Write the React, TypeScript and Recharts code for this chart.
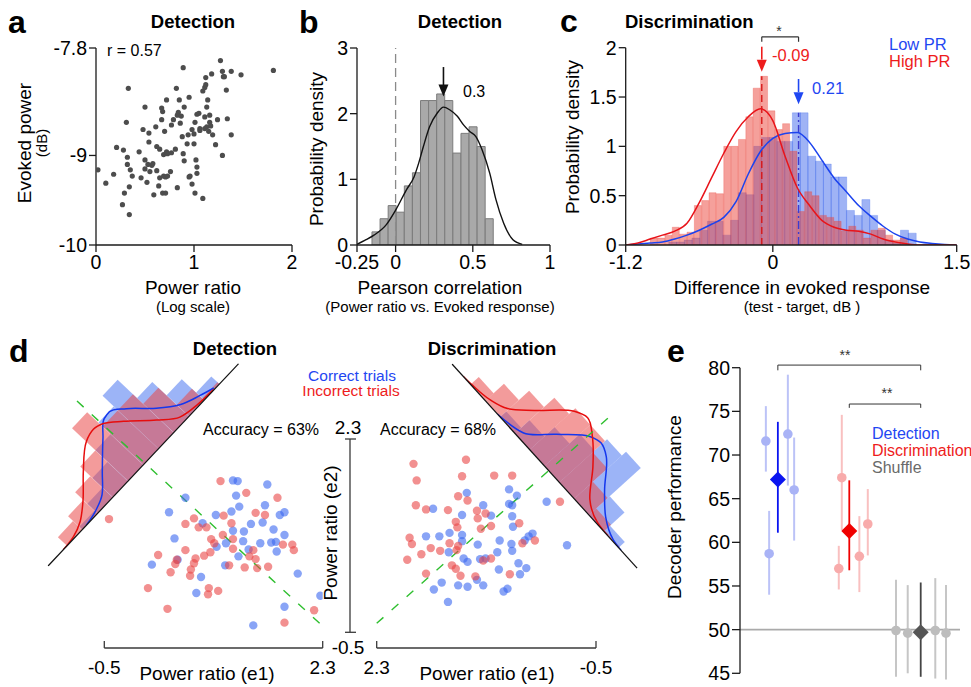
import React from "react";
import {
  ComposedChart,
  ScatterChart,
  Scatter,
  Bar,
  Line,
  XAxis,
  YAxis,
  ReferenceLine,
  ReferenceDot,
  ErrorBar,
} from "recharts";

const FONT = "'Liberation Sans', Arial, Helvetica, sans-serif";
const INK = "#1b1b1b";
const BLUE = "#1f47f2";
const RED = "#ee1c1c";

// ---------- a: evoked power vs power ratio ----------
const powerRatio = [
  0.02, 0.1, 0.18, 0.21, 0.28, 0.27, 0.29, 0.31, 0.32, 0.32, 0.33, 0.34, 0.34, 0.35, 0.37, 0.44, 0.46, 0.48, 0.5, 0.5,
  0.5, 0.52, 0.54, 0.53, 0.54, 0.55, 0.57, 0.58, 0.59, 0.61, 0.62, 0.62, 0.64, 0.65, 0.65, 0.67, 0.67, 0.68, 0.68, 0.69,
  0.69, 0.71, 0.7, 0.71, 0.72, 0.72, 0.73, 0.73, 0.76, 0.77, 0.77, 0.79, 0.81, 0.82, 0.83, 0.83, 0.84, 0.85, 0.86, 0.87,
  0.88, 0.89, 0.89, 0.9, 0.9, 0.93, 0.94, 0.95, 0.95, 0.96, 0.98, 0.98, 1.0, 1.0, 1.01, 1.01, 1.02, 1.03, 1.03, 1.03,
  1.05, 1.06, 1.06, 1.09, 1.09, 1.11, 1.11, 1.11, 1.12, 1.12, 1.13, 1.13, 1.14, 1.15, 1.16, 1.16, 1.17, 1.18, 1.19, 1.22,
  1.24, 1.27, 1.29, 1.29, 1.3, 1.31, 1.33, 1.34, 1.38, 1.38, 1.48, 1.81,
];
const evokedPower = [
  -9.16, -9.31, -9.21, -8.91, -8.94, -9.55, -9.42, -8.63, -9.02, -9.1, -8.25, -9.35, -9.66, -9.16, -9.23, -8.96, -9.25,
  -8.71, -8.46, -9.05, -9.15, -9.3, -8.85, -9.1, -8.75, -9.18, -9.11, -9.09, -9.44, -8.68, -8.9, -9.17, -9.34, -9.25,
  -8.93, -8.6, -8.47, -8.51, -9.42, -8.99, -9.23, -9.42, -8.73, -9.24, -8.38, -8.96, -9.23, -8.98, -9.18, -8.66, -8.97,
  -8.6, -8.93, -8.25, -9.36, -8.55, -8.52, -8.38, -8.64, -8.56, -8.79, -8.02, -8.98, -9.06, -8.46, -8.87, -8.77, -8.35,
  -9.24, -9.23, -9.32, -8.71, -8.76, -8.87, -9.42, -8.63, -9.05, -8.54, -9.13, -9.2, -8.53, -8.7, -8.72, -8.28, -9.48,
  -8.24, -8.57, -8.7, -8.13, -8.21, -8.46, -8.68, -8.38, -8.73, -8.55, -8.63, -8.67, -8.09, -8.77, -8.88, -8.6, -7.94,
  -8.06, -9.0, -8.12, -8.12, -8.27, -8.59, -8.06, -8.77, -8.1, -8.05,
];

// ---------- b: pearson correlation histogram ----------
const corrBinCenter = [
  -0.1268, -0.0744, -0.022, 0.0304, 0.0828, 0.1352, 0.1876, 0.24, 0.2924, 0.3448, 0.3972, 0.4496, 0.502, 0.5544, 0.6068,
];
const corrBinDensity = [0.2, 0.4, 0.6, 0.5, 0.9, 1.1, 2.2, 2.2, 2.3, 2.2, 1.4, 1.7, 1.8, 1.5, 0.4];
const corrKdeX = [
  -0.25, -0.2, -0.14, -0.06, 0, 0.07, 0.12, 0.15, 0.18, 0.22, 0.27, 0.31, 0.35, 0.4, 0.44, 0.48, 0.52, 0.56, 0.61, 0.65,
  0.7, 0.76, 0.82,
];
const corrKdeY = [
  0.01, 0.07, 0.15, 0.31, 0.53, 0.84, 1.04, 1.25, 1.5, 1.8, 2.01, 2.1, 2.06, 1.96, 1.83, 1.73, 1.65, 1.45, 1.09, 0.69,
  0.33, 0.08, 0.01,
];
const corrMedian = 0.31;

// ---------- c: difference in evoked response ----------
const highBinCenter = [
  -0.97, -0.91, -0.85, -0.79, -0.73, -0.67, -0.61, -0.55, -0.49, -0.43, -0.37, -0.31, -0.25, -0.19, -0.13, -0.07, -0.01,
  0.05, 0.11, 0.17, 0.23, 0.29, 0.35, 0.41, 0.47, 0.53, 0.59, 0.65, 0.71, 0.77, 0.83, 0.89, 0.95, 1.01, 1.07,
];
const highBinDensity = [
  0.07, 0.07, 0.1, 0.18, 0.11, 0.13, 0.4, 0.45, 0.53, 0.52, 1.0, 1.0, 1.07, 1.3, 1.59, 1.71, 1.36, 1.17, 1.23, 0.95, 0.34,
  0.54, 0.5, 0.3, 0.28, 0.24, 0.14, 0.19, 0.15, 0.07, 0.15, 0.17, 0.1, 0.05, 0.07,
];
const lowBinCenter = [
  -0.817, -0.754, -0.691, -0.628, -0.565, -0.502, -0.439, -0.376, -0.313, -0.25, -0.187, -0.124, -0.061, 0.002, 0.065,
  0.128, 0.191, 0.254, 0.317, 0.38, 0.443, 0.506, 0.569, 0.632, 0.695, 0.758, 0.821, 0.884, 0.947, 1.01, 1.073, 1.136,
];
const lowBinDensity = [
  0.03, 0.03, 0.05, 0.07, 0.15, 0.24, 0.24, 0.1, 0.25, 0.53, 0.51, 1.0, 1.09, 1.09, 1.05, 1.05, 1.34, 1.34, 0.9, 0.85,
  0.82, 0.69, 0.69, 0.35, 0.3, 0.46, 0.3, 0.15, 0.05, 0.02, 0.15, 0.12,
];
const diffKdeX = [
  -1.2, -1.1, -1.0, -0.9, -0.8, -0.7, -0.6, -0.5, -0.4, -0.3, -0.2, -0.1, 0.0, 0.1, 0.2, 0.3, 0.4, 0.5, 0.6, 0.7, 0.8, 0.9,
  1.0, 1.1, 1.2, 1.3, 1.4, 1.5,
];
const highKde = [
  0, 0.02, 0.06, 0.1, 0.14, 0.22, 0.43, 0.68, 0.93, 1.15, 1.3, 1.38, 1.26, 0.9, 0.58, 0.4, 0.25, 0.18, 0.15, 0.14, 0.11,
  0.06, 0.03, 0.01, 0, 0, 0, 0,
];
const lowKde = [
  0, 0.01, 0.02, 0.03, 0.06, 0.1, 0.15, 0.21, 0.28, 0.44, 0.72, 0.95, 1.08, 1.13, 1.14, 1.04, 0.86, 0.68, 0.54, 0.4, 0.29,
  0.19, 0.11, 0.06, 0.03, 0.015, 0.005, 0,
];
const highMean = -0.09;
const lowMean = 0.21;

// ---------- d: decoder scatter (e1, e2) ----------
const detCorrectE1 = [
  1.15, 1.21, 1.59, 1.19, 0.54, 0.33, 0.93, 1.13, 1.23, 1.56, 1.75, 1.81, 0.76, 0.4, 1.15, 1.29, 1.38, 1.53, 1.67, 1.81,
  0.94, 1.06, 1.28, 1.35, 1.5, 1.64, 1.7, 1.71, 1.22, 0.11, 0.44, 0.74, 1.05, 1.98, 0.68, 2.27, 1.81, 1.41,
];
const detCorrectE2 = [
  1.7, 1.69, 1.64, 1.48, 1.45, 1.24, 1.2, 1.25, 1.32, 1.34, 1.2, 1.24, 1.08, 0.86, 0.97, 0.96, 1.07, 1.09, 0.99, 0.91,
  0.74, 0.79, 0.82, 0.7, 0.79, 0.8, 0.81, 0.67, 0.6, 0.48, 0.55, 0.3, 0.47, 0.35, 0.07, 0.03, -0.13, -0.4,
];
const detWrongE1 = [
  0.99, 1.32, 1.72, 1.44, 1.56, 1.03, 1.13, 0.54, 0.65, 0.71, 0.81, 0.87, 0.91, 1.02, 1.15, 1.15, 1.41, 1.36, 1.44, 1.46,
  1.6, 1.79, 1.91, 1.93, 0.54, 0.67, 0.65, 0.78, 0.86, 0.19, 0.43, 0.41, 0.35, 0.61, 0.6, 1.1, 1.3, 0.06, 0.84, 0.96,
  0.83, 0.31, 2.19, 1.81, -0.44,
];
const detWrongE2 = [
  1.69, 1.52, 1.45, 1.23, 1.2, 1.19, 1.08, 1.07, 1.15, 1.02, 1.02, 0.85, 0.79, 0.91, 0.85, 0.71, 0.69, 0.6, 0.56, 0.43,
  0.45, 0.77, 0.77, 0.69, 0.69, 0.57, 0.5, 0.61, 0.66, 0.62, 0.55, 0.49, 0.37, 0.41, 0.32, 0.47, 0.44, 0.14, 0.14, 0.1,
  0.05, -0.16, -0.18, -0.36, 1.14,
];
const disCorrectE1 = [
  1.15, 0.94, 0.61, 0.61, 0.57, 0.51, 0.13, -0.13, 1.58, 1.21, 0.84, 0.57, 0.56, 1.5, 1.67, 1.37, 1.21, 1.21, 1.01, 0.73,
  0.58, 0.31, 0.36, 0.41, 1.38, 1.19, 1.14, 0.98, 0.91, 0.76, 0.57, 0.49, 0.39, 0.47, 0.74, 1.02, 1.47, 1.57, 1.26, 1.14,
  0.94, 0.63, 0.68, 1.39,
];
const disCorrectE2 = [
  1.52, 1.34, 1.57, 1.36, 1.34, 1.48, 1.39, 0.76, 1.29, 1.2, 1.19, 1.18, 1.03, 0.89, 0.89, 0.94, 0.91, 0.82, 0.77, 0.83,
  0.78, 0.93, 0.89, 0.83, 0.66, 0.57, 0.52, 0.56, 0.57, 0.66, 0.68, 0.5, 0.43, 0.34, 0.41, 0.26, 0.22, 0.12, 0.18, 0.16,
  0.18, 0.13, 0.09, -0.06,
];
const disWrongE1 = [
  1.16, 1.83, 1.79, 1.21, 0.8, 0.57, 1.26, 1.14, 1.8, 1.39, 1.02, 0.91, 1.01, 0.84, 1.29, 1.27, 0.97, 0.48, 0.44, 0.28,
  1.88, 1.85, 1.61, 1.49, 1.73, 1.91, 1.37, 1.26, 1.28, 1.34, 1.29, 1.23, 1.67, 1.04, 0.94, 0.84, 0.6, -0.04, 1.67,
];
const disWrongE2 = [
  2.0, 1.94, 1.7, 1.76, 1.77, 1.77, 1.47, 1.41, 1.34, 1.27, 1.26, 1.22, 1.15, 1.04, 1.1, 1.02, 1.0, 1.08, 0.79, 0.83, 0.87,
  0.78, 0.72, 0.68, 0.63, 0.55, 0.79, 0.75, 0.69, 0.47, 0.42, 0.32, 0.35, 0.31, 0.54, 0.57, 0.34, 1.39, 1.28,
];
// decision boundaries (e1, e2 end points)
const detBoundary = [
  [-0.85, 2.85],
  [2.31, -0.42],
];
const disBoundary = [
  [2.3, -0.37],
  [-0.68, 2.63],
];

// projections onto the decoder axis (marginal histograms)
const projBinCenter = [1.4, 2.2, 3.0, 3.8, 4.6, 5.4, 6.2, 7.0, 7.8, 8.6];
const detProjWrong = [0.45, 0.7, 1.1, 1.6, 2.75, 2.0, 2.0, 1.5, 0.6, 0.1];
const detProjCorrect = [0, 0.15, 0.5, 1.0, 1.6, 2.2, 2.75, 1.8, 1.1, 0.4];
const disProjWrong = [0.4, 0.9, 1.4, 1.9, 2.2, 2.2, 1.6, 0.9, 0.35, 0.05];
const disProjCorrect = [0, 0, 0.3, 0.7, 1.2, 1.7, 2.3, 2.5, 1.0, 0.3];
const detKdeWrongX = [0.8, 1.4, 1.95, 2.55, 3.35, 4.2, 4.7, 5.1, 5.65, 6.5, 7.15, 7.9, 8.7];
const detKdeWrongY = [0, 0.06, 0.25, 0.67, 1.4, 2.05, 2.17, 2.05, 1.58, 0.75, 0.22, 0.07, 0.02];
const detKdeCorrectX = [2.0, 2.6, 3.2, 3.8, 4.7, 5.25, 5.55, 6.05, 6.8, 7.5, 8.2, 8.75];
const detKdeCorrectY = [0, 0.11, 0.34, 0.89, 1.7, 2.15, 2.18, 1.82, 1.05, 0.51, 0.23, 0.05];
const disKdeWrongX = [0.6, 1.05, 1.9, 2.55, 3.25, 4.25, 4.75, 5.35, 6.2, 7.0, 7.8, 8.4];
const disKdeWrongY = [0, 0.03, 0.15, 0.4, 1.06, 2.1, 2.3, 1.99, 1.26, 0.4, 0.05, 0];
const disKdeCorrectX = [2.45, 3.6, 4.45, 5.35, 5.75, 6.25, 7.1, 7.85, 8.65, 9.15];
const disKdeCorrectY = [0, 0.24, 1.09, 1.93, 2.05, 1.86, 1.02, 0.4, 0.05, 0];

// ---------- e: decoder performance ----------
const detSessX = [0.832, 0.878, 1.14, 1.228];
const detSessY = [71.6, 58.7, 72.4, 66.0];
const detSessLo = [68.1, 54.0, 66.5, 60.2];
const detSessHi = [75.6, 63.6, 79.2, 72.0];
const disSessX = [1.853, 1.895, 2.141, 2.259];
const disSessY = [57.0, 67.4, 58.4, 62.1];
const disSessLo = [54.6, 61.4, 54.3, 58.5];
const disSessHi = [59.6, 74.6, 63.0, 66.1];
const shufSessX = [2.654, 2.818, 3.204, 3.354];
const shufSessY = [49.9, 49.6, 49.9, 49.6];
const shufSessLo = [44.6, 45.0, 44.4, 44.3];
const shufSessHi = [55.7, 55.1, 55.9, 55.1];
const meanX = [1, 2, 3];
const meanY = [67.2, 61.3, 49.7];
const meanLo = [61.1, 56.8, 44.6];
const meanHi = [73.8, 67.1, 55.4];

// ---------- helpers ----------
const zip = (xs: number[], ys: number[], kx = "x", ky = "y") => xs.map((v, i) => ({ [kx]: v, [ky]: ys[i] }));
const withErr = (xs: number[], ys: number[], lo: number[], hi: number[]) =>
  xs.map((x, i) => ({ x, y: ys[i], err: [ys[i] - lo[i], hi[i] - ys[i]] }));

const tickFont = { fontSize: 19.5, fill: "#000", fontFamily: FONT };
const lineStyle = { stroke: INK, strokeWidth: 1.3 };

const dot = (r: number, fill: string, op = 1) => (p: any) =>
  <circle cx={p.cx} cy={p.cy} r={r} fill={fill} fillOpacity={op} />;
const diamond = (h: number, fill: string) => (p: any) =>
  <polygon points={`${p.cx},${p.cy - h} ${p.cx + h},${p.cy} ${p.cx},${p.cy + h} ${p.cx - h},${p.cy}`} fill={fill} />;
const arrowHead = (fill: string) => (p: any) =>
  <polygon points={`${p.cx - 5},${p.cy - 12} ${p.cx + 5},${p.cy - 12} ${p.cx},${p.cy}`} fill={fill} />;

const Box = ({ x, y, children, style }: any) => (
  <div style={{ position: "absolute", left: x, top: y, ...style }}>{children}</div>
);

function T({ x, y, s = 19, b, c = "#000", a = "middle", r, children }: any) {
  return (
    <text
      x={x}
      y={y}
      fontSize={s}
      fontWeight={b ? 700 : 400}
      fill={c}
      textAnchor={a}
      transform={r ? `rotate(-90 ${x} ${y})` : undefined}
    >
      {children}
    </text>
  );
}

// ---------- panels ----------
function PanelA() {
  const data = zip(powerRatio, evokedPower);
  return (
    <Box x={0} y={0}>
      <ScatterChart width={310} height={300} margin={{ top: 48, right: 18, bottom: 25, left: 36 }}>
        <XAxis type="number" dataKey="x" domain={[0, 2]} ticks={[0, 1, 2]} interval={0} height={30}
          axisLine={lineStyle} tickLine={lineStyle} tickSize={7} tickMargin={3} tick={tickFont} allowDataOverflow />
        <YAxis type="number" dataKey="y" domain={[-10, -7.8]} ticks={[-10, -9, -7.8]} interval={0} width={60}
          axisLine={lineStyle} tickLine={lineStyle} tickSize={7} tick={tickFont} allowDataOverflow />
        <Scatter data={data} shape={dot(2.6, "#4d4d4d")} isAnimationActive={false} />
      </ScatterChart>
    </Box>
  );
}

function PanelB() {
  const bins = zip(corrBinCenter, corrBinDensity, "x", "d");
  const kde = zip(corrKdeX, corrKdeY, "x", "d");
  return (
    <Box x={290} y={0}>
      <ComposedChart width={280} height={300} data={bins} barCategoryGap={0} barGap={0}
        margin={{ top: 48, right: 20, bottom: 25, left: 27 }}>
        <XAxis xAxisId="bins" type="number" dataKey="x" domain={[-0.25, 1]} ticks={[-0.25, 0, 0.5, 1]} interval={0}
          height={30} axisLine={lineStyle} tickLine={lineStyle} tickSize={7} tickMargin={3} tick={tickFont}
          allowDataOverflow />
        <XAxis xAxisId="kde" type="number" dataKey="x" domain={[-0.25, 1]} hide allowDataOverflow />
        <YAxis type="number" domain={[0, 3]} ticks={[0, 1, 2, 3]} interval={0} width={40}
          axisLine={lineStyle} tickLine={lineStyle} tickSize={7} tick={tickFont} allowDataOverflow />
        <Bar xAxisId="bins" dataKey="d" fill="#a9a9a9" stroke="#7c7c7c" strokeWidth={1} isAnimationActive={false} />
        <ReferenceLine xAxisId="kde" x={0} stroke="#8a8a8a" strokeWidth={1.3} strokeDasharray="9 5" />
        <Line xAxisId="kde" data={kde} dataKey="d" type="monotone" stroke="#111" strokeWidth={1.4} dot={false}
          isAnimationActive={false} />
        <ReferenceLine xAxisId="kde" segment={[{ x: corrMedian, y: 2.71 }, { x: corrMedian, y: 2.4 }]}
          stroke="#111" strokeWidth={1.6} ifOverflow="visible" />
        <ReferenceDot xAxisId="kde" x={corrMedian} y={2.26} shape={arrowHead("#111")} ifOverflow="visible" />
      </ComposedChart>
    </Box>
  );
}

function PanelC() {
  const W = 411;
  const H = 300;
  const inset = { top: 47.7, right: 14.3, bottom: 55, left: 65.7 };
  const high = zip(highBinCenter, highBinDensity, "x", "d");
  const low = zip(lowBinCenter, lowBinDensity, "x", "d");
  const kde = diffKdeX.map((x, i) => ({ x, high: highKde[i], low: lowKde[i] }));
  const layer = { position: "absolute" as const, left: 0, top: 0 };
  return (
    <Box x={560} y={0} style={{ width: W, height: H }}>
      <div style={layer}>
        <ComposedChart width={W} height={H} data={low} barCategoryGap={0} barGap={0} margin={inset}>
          <XAxis type="number" dataKey="x" domain={[-1.2, 1.5]} hide allowDataOverflow />
          <YAxis type="number" domain={[0, 2]} hide allowDataOverflow />
          <Bar dataKey="d" fill="#3f68ec" fillOpacity={0.5} stroke="#3f68ec" strokeOpacity={0.35} strokeWidth={0.8}
            isAnimationActive={false} />
        </ComposedChart>
      </div>
      <div style={layer}>
        <ComposedChart width={W} height={H} data={high} barCategoryGap={0} barGap={0} margin={inset}>
          <XAxis type="number" dataKey="x" domain={[-1.2, 1.5]} hide allowDataOverflow />
          <YAxis type="number" domain={[0, 2]} hide allowDataOverflow />
          <Bar dataKey="d" fill="#ec4137" fillOpacity={0.5} stroke="#ec4137" strokeOpacity={0.35} strokeWidth={0.8}
            isAnimationActive={false} />
        </ComposedChart>
      </div>
      <div style={layer}>
        <ComposedChart width={W} height={H} data={kde} margin={{ top: 47.7, right: 14.3, bottom: 25, left: 25.7 }}>
          <XAxis type="number" dataKey="x" domain={[-1.2, 1.5]} ticks={[-1.2, 0, 1.5]} interval={0} height={30}
            axisLine={lineStyle} tickLine={lineStyle} tickSize={7} tickMargin={3} tick={tickFont} allowDataOverflow />
          <YAxis type="number" domain={[0, 2]} ticks={[0, 0.5, 1, 1.5, 2]} interval={0} width={40}
            axisLine={lineStyle} tickLine={lineStyle} tickSize={7} tick={tickFont} allowDataOverflow />
          <ReferenceLine segment={[{ x: highMean, y: 0 }, { x: highMean, y: 1.71 }]} stroke="#d81818"
            strokeWidth={1.4} strokeDasharray="7 4" />
          <ReferenceLine segment={[{ x: lowMean, y: 0 }, { x: lowMean, y: 1.34 }]} stroke="#3b3bd0"
            strokeWidth={1.4} strokeDasharray="8 3 2 3" />
          <Line dataKey="low" type="monotone" stroke="#1c43ee" strokeWidth={1.5} dot={false} isAnimationActive={false} />
          <Line dataKey="high" type="monotone" stroke="#e8141a" strokeWidth={1.5} dot={false} isAnimationActive={false} />
          <ReferenceLine segment={[{ x: highMean, y: 2.01 }, { x: highMean, y: 1.88 }]} stroke={RED} strokeWidth={1.6}
            ifOverflow="visible" />
          <ReferenceDot x={highMean} y={1.757} shape={arrowHead(RED)} ifOverflow="visible" />
          <ReferenceLine segment={[{ x: lowMean, y: 1.683 }, { x: lowMean, y: 1.55 }]} stroke={BLUE} strokeWidth={1.6}
            ifOverflow="visible" />
          <ReferenceDot x={lowMean} y={1.426} shape={arrowHead(BLUE)} ifOverflow="visible" />
          <ReferenceLine segment={[{ x: highMean, y: 2.11 }, { x: lowMean, y: 2.11 }]} stroke="#333" strokeWidth={1.2}
            ifOverflow="visible" />
          <ReferenceLine segment={[{ x: lowMean, y: 2.11 }, { x: lowMean, y: 2.06 }]} stroke="#333" strokeWidth={1.2}
            ifOverflow="visible" />
          <ReferenceLine segment={[{ x: highMean, y: 2.11 }, { x: highMean, y: 2.06 }]} stroke="#333" strokeWidth={1.2}
            ifOverflow="visible" />
        </ComposedChart>
      </div>
    </Box>
  );
}

function Marginal({ x, y, angle, length, correct, wrong, kdeWrong, kdeCorrect }: any) {
  const H = 84;
  const bins = projBinCenter.map((p, i) => ({ p, wrong: wrong[i], correct: correct[i] }));
  return (
    <Box x={x} y={y - H} style={{ transformOrigin: `0px ${H}px`, transform: `rotate(${angle}deg)` }}>
      <ComposedChart width={length} height={H + 3} data={bins} barCategoryGap={0} barGap={0}
        margin={{ top: 0, right: 0, bottom: 3, left: 0 }}>
        <XAxis xAxisId="c" type="number" dataKey="p" domain={[0, 10]} hide allowDataOverflow />
        <XAxis xAxisId="w" type="number" dataKey="p" domain={[0, 10]} hide allowDataOverflow />
        <XAxis xAxisId="k" type="number" dataKey="p" domain={[0, 10]} hide allowDataOverflow />
        <YAxis type="number" domain={[0, 3]} hide allowDataOverflow />
        <Bar xAxisId="c" dataKey="correct" fill="#4a76f0" fillOpacity={0.55} isAnimationActive={false} />
        <Bar xAxisId="w" dataKey="wrong" fill="#e94848" fillOpacity={0.55} isAnimationActive={false} />
        <Line xAxisId="k" data={kdeCorrect} dataKey="d" type="monotone" stroke="#1437ee" strokeWidth={1.5}
          dot={false} isAnimationActive={false} />
        <Line xAxisId="k" data={kdeWrong} dataKey="d" type="monotone" stroke="#e60d0d" strokeWidth={1.5}
          dot={false} isAnimationActive={false} />
        <ReferenceLine xAxisId="k" y={0} stroke="#111" strokeWidth={1.2} ifOverflow="visible" />
      </ComposedChart>
    </Box>
  );
}

const e1Axis = {
  type: "number" as const,
  dataKey: "x",
  domain: [-0.5, 2.3],
  ticks: [-0.5, 2.3],
  interval: 0 as const,
  height: 32,
  axisLine: { stroke: "#3a3a3a", strokeWidth: 1.3 },
  tickLine: { stroke: "#3a3a3a", strokeWidth: 1.3 },
  tickSize: -7,
  tickMargin: 20,
  tick: { fontSize: 19, fill: "#000", fontFamily: FONT },
  allowDataOverflow: true,
};

function DecoderScatter({ x, left, right, reversed, correct, wrong, boundary }: any) {
  return (
    <Box x={x} y={380}>
      <ScatterChart width={300} height={300} margin={{ top: 59, right, bottom: 0, left }}>
        <XAxis {...e1Axis} reversed={reversed} />
        <YAxis type="number" dataKey="y" domain={[-0.5, 2.3]} hide padding={{ top: 0, bottom: 15.7 }}
          allowDataOverflow />
        <Scatter data={correct} shape={dot(4.2, "#3b67f0", 0.6)} isAnimationActive={false} />
        <Scatter data={wrong} shape={dot(4.2, "#ea4646", 0.6)} isAnimationActive={false} />
        <ReferenceLine
          segment={[{ x: boundary[0][0], y: boundary[0][1] }, { x: boundary[1][0], y: boundary[1][1] }]}
          stroke="#2fbf2f" strokeWidth={1.4} strokeDasharray="9 11" ifOverflow="visible" />
      </ScatterChart>
    </Box>
  );
}

const e2Tick = (p: any) => {
  const v = p.payload.value;
  const top = v > 1;
  return (
    <g>
      <line x1={p.x - 5} x2={p.x + 6} y1={p.y} y2={p.y} stroke="#3a3a3a" strokeWidth={1.3} />
      <text x={p.x - 2} y={top ? p.y - 5 : p.y + 22} textAnchor="middle" fontSize={19} fill="#000" fontFamily={FONT}>
        {v}
      </text>
    </g>
  );
};

function E2Axis() {
  return (
    <Box x={300} y={400}>
      <ScatterChart width={80} height={260} margin={{ top: 39, right: 10, bottom: 27.7, left: 40 }}>
        <XAxis type="number" dataKey="x" domain={[0, 1]} hide allowDataOverflow />
        <YAxis type="number" dataKey="y" domain={[-0.5, 2.3]} ticks={[-0.5, 2.3]} interval={0} width={10}
          axisLine={{ stroke: "#3a3a3a", strokeWidth: 1.3 }} tickLine={false} tickSize={0} tickMargin={0}
          tick={e2Tick} allowDataOverflow />
      </ScatterChart>
    </Box>
  );
}

function PanelE() {
  const det = withErr(detSessX, detSessY, detSessLo, detSessHi);
  const dis = withErr(disSessX, disSessY, disSessLo, disSessHi);
  const shuf = withErr(shufSessX, shufSessY, shufSessLo, shufSessHi);
  const means = withErr(meanX, meanY, meanLo, meanHi);
  return (
    <Box x={650} y={330}>
      <ScatterChart width={321} height={357} margin={{ top: 37.7, right: 11, bottom: 13.7, left: 40 }}>
        <XAxis type="number" dataKey="x" domain={[0.47, 3.55]} hide allowDataOverflow />
        <YAxis type="number" dataKey="y" domain={[45, 80]} ticks={[45, 50, 55, 60, 65, 70, 75, 80]} interval={0}
          width={50} axisLine={lineStyle} tickLine={lineStyle} tickSize={8} tick={tickFont} allowDataOverflow />
        <ReferenceLine y={50} stroke="#aaaaaa" strokeWidth={1.6} />
        <Scatter data={det} shape={dot(4.8, "#a9b3f6")} isAnimationActive={false}>
          <ErrorBar dataKey="err" direction="y" width={0} stroke="#bcc3f7" strokeWidth={2} />
        </Scatter>
        <Scatter data={dis} shape={dot(4.8, "#f8abab")} isAnimationActive={false}>
          <ErrorBar dataKey="err" direction="y" width={0} stroke="#f9c0c0" strokeWidth={2} />
        </Scatter>
        <Scatter data={shuf} shape={dot(4.8, "#bdbdbd")} isAnimationActive={false}>
          <ErrorBar dataKey="err" direction="y" width={0} stroke="#c6c6c6" strokeWidth={2} />
        </Scatter>
        <Scatter data={[means[0]]} shape={diamond(8, "#0a14f0")} isAnimationActive={false}>
          <ErrorBar dataKey="err" direction="y" width={0} stroke="#0a14f0" strokeWidth={1.8} />
        </Scatter>
        <Scatter data={[means[1]]} shape={diamond(8, "#f00000")} isAnimationActive={false}>
          <ErrorBar dataKey="err" direction="y" width={0} stroke="#f00000" strokeWidth={1.8} />
        </Scatter>
        <Scatter data={[means[2]]} shape={diamond(8, "#555555")} isAnimationActive={false}>
          <ErrorBar dataKey="err" direction="y" width={0} stroke="#444444" strokeWidth={1.8} />
        </Scatter>
        <ReferenceLine segment={[{ x: 1, y: 79.7 }, { x: 1, y: 80.3 }]} stroke="#333" ifOverflow="visible" />
        <ReferenceLine segment={[{ x: 1, y: 80.3 }, { x: 3, y: 80.3 }]} stroke="#333" ifOverflow="visible" />
        <ReferenceLine segment={[{ x: 3, y: 80.3 }, { x: 3, y: 79.7 }]} stroke="#333" ifOverflow="visible" />
        <ReferenceLine segment={[{ x: 2, y: 75.4 }, { x: 2, y: 75.84 }]} stroke="#333" ifOverflow="visible" />
        <ReferenceLine segment={[{ x: 2, y: 75.84 }, { x: 3, y: 75.84 }]} stroke="#333" ifOverflow="visible" />
        <ReferenceLine segment={[{ x: 3, y: 75.84 }, { x: 3, y: 75.4 }]} stroke="#333" ifOverflow="visible" />
      </ScatterChart>
    </Box>
  );
}

function Labels() {
  return (
    <svg width={971} height={687} style={{ position: "absolute", left: 0, top: 0, pointerEvents: "none" }}
      fontFamily={FONT}>
      {/* panel letters */}
      <T x={8} y={33} s={32} b a="start">a</T>
      <T x={299} y={33} s={32} b a="start">b</T>
      <T x={560} y={32} s={32} b a="start">c</T>
      <T x={9} y={362} s={32} b a="start">d</T>
      <T x={667} y={362} s={32} b a="start">e</T>

      {/* a */}
      <T x={193} y={28} s={18.5} b>Detection</T>
      <T x={107} y={56} s={16} a="start">r = 0.57</T>
      <T x={31} y={143} r>Evoked power</T>
      <T x={47} y={143} s={15} r>(dB)</T>
      <T x={193} y={294}>Power ratio</T>
      <T x={193} y={312} s={15}>(Log scale)</T>

      {/* b */}
      <T x={460} y={28} s={18.5} b>Detection</T>
      <T x={463} y={97} s={16} a="start">0.3</T>
      <T x={323} y={149} r>Probability density</T>
      <T x={440} y={294}>Pearson correlation</T>
      <T x={440} y={312} s={15}>(Power ratio vs. Evoked response)</T>

      {/* c */}
      <T x={625} y={28} s={18.5} b a="start">Discrimination</T>
      <T x={779} y={36} s={14} c="#333">*</T>
      <T x={772} y={61} s={16.5} c={RED} a="start">-0.09</T>
      <T x={812} y={94} s={16.5} c={BLUE} a="start">0.21</T>
      <T x={889} y={50} s={16.5} c={BLUE} a="start">Low PR</T>
      <T x={889} y={67} s={16.5} c={RED} a="start">High PR</T>
      <T x={579} y={137} r>Probability density</T>
      <T x={802} y={294}>Difference in evoked response</T>
      <T x={802} y={312} s={15}>(test - target, dB )</T>

      {/* d */}
      <T x={235} y={355} s={18.5} b>Detection</T>
      <T x={492} y={355} s={18.5} b>Discrimination</T>
      <T x={352} y={380.5} s={15.5} c={BLUE}>Correct trials</T>
      <T x={351} y={396} s={15.5} c={RED}>Incorrect trials</T>
      <T x={203} y={435} s={16} a="start">Accuracy = 63%</T>
      <T x={380} y={435} s={16} a="start">Accuracy = 68%</T>
      <T x={337} y={533} r>Power ratio (e2)</T>
      <T x={207} y={680}>Power ratio (e1)</T>
      <T x={487} y={680}>Power ratio (e1)</T>

      {/* e */}
      <T x={681} y={507} r>Decoder performance</T>
      <T x={845} y={360} s={14} c="#333">**</T>
      <T x={887} y={398} s={14} c="#333">**</T>
      <T x={872} y={439} s={16} c={BLUE} a="start">Detection</T>
      <T x={872} y={456} s={16} c={RED} a="start">Discrimination</T>
      <T x={872} y={473} s={16} c="#6a6a6a" a="start">Shuffle</T>
    </svg>
  );
}

export default function App() {
  return (
    <div
      style={{
        position: "absolute",
        left: 0,
        top: 0,
        width: 971,
        height: 687,
        background: "#fff",
        fontFamily: FONT,
        overflow: "hidden",
      }}
    >
      <PanelA />
      <PanelB />
      <PanelC />
      <Marginal
        x={48.3}
        y={565.7}
        angle={-46.7}
        length={278}
        correct={detProjCorrect}
        wrong={detProjWrong}
        kdeWrong={zip(detKdeWrongX, detKdeWrongY, "p", "d")}
        kdeCorrect={zip(detKdeCorrectX, detKdeCorrectY, "p", "d")}
      />
      <Marginal
        x={451.7}
        y={364}
        angle={47.8}
        length={275.6}
        correct={disProjCorrect}
        wrong={disProjWrong}
        kdeWrong={zip(disKdeWrongX, disKdeWrongY, "p", "d")}
        kdeCorrect={zip(disKdeCorrectX, disKdeCorrectY, "p", "d")}
      />
      <DecoderScatter
        x={40}
        left={64.3}
        right={17.3}
        reversed={false}
        correct={zip(detCorrectE1, detCorrectE2)}
        wrong={zip(detWrongE1, detWrongE2)}
        boundary={detBoundary}
      />
      <DecoderScatter
        x={340}
        left={36.7}
        right={44}
        reversed={true}
        correct={zip(disCorrectE1, disCorrectE2)}
        wrong={zip(disWrongE1, disWrongE2)}
        boundary={disBoundary}
      />
      <E2Axis />
      <PanelE />
      <Labels />
    </div>
  );
}
